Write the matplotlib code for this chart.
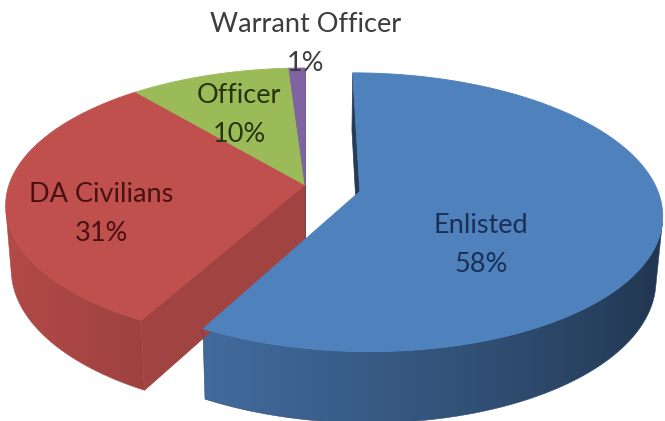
import numpy as np
import matplotlib.pyplot as plt
from matplotlib.patches import Polygon

labels = ["Enlisted", "DA Civilians", "Officer", "Warrant Officer"]
shares = [58, 31, 10, 1]
colors = ["#4F81BD", "#C0504D", "#9BBB59", "#8064A2"]
explode = [0.19, 0.0, 0.0, 0.0]
text_colors = ["#1B2F55", "#4A1111", "#26330D", "#3C3C3C"]
# centre x and first-line baseline of each label, in pixels
label_pos = [(481, 233), (101, 202), (239, 103), (306, 32)]
LINE_GAP = 39

# 3d view of the pie
ELEV = np.radians(27.0)
DIST = 6.0
HEIGHT = 0.245
SCALE = 296
CX, CY = 305, 185


def project(x, y, z):
    yv = y * np.sin(ELEV) + z * np.cos(ELEV)
    depth = y * np.cos(ELEV) - z * np.sin(ELEV)
    f = 1.0 / (1.0 + depth / DIST)
    return CX + SCALE * x * f, CY - SCALE * yv * f, depth


def shade(color, k):
    rgb = np.array(plt.matplotlib.colors.to_rgb(color))
    return np.clip(rgb * k, 0, 1)


def area(xs, ys):
    return 0.5 * np.sum(xs * np.roll(ys, -1) - np.roll(xs, -1) * ys)


fig = plt.figure(figsize=(6.65, 4.21), dpi=100)
ax = fig.add_axes([0, 0, 1, 1])
ax.set_xlim(0, 665)
ax.set_ylim(421, 0)
ax.axis("off")

walls = []   # (order key, kind, data)
tops = []
start = 90.0
for share, color, exp in zip(shares, colors, explode):
    a0 = np.radians(start)
    a1 = np.radians(start - share * 3.6)
    start -= share * 3.6
    mid = (a0 + a1) / 2
    ox, oy = exp * np.cos(mid), exp * np.sin(mid)

    t = np.linspace(a1, a0, max(int(np.degrees(a0 - a1)), 2) + 1)
    rx, ry = ox + np.cos(t), oy + np.sin(t)
    tx, ty, td = project(rx, ry, 0)
    bx, by, bd = project(rx, ry, -HEIGHT)
    cx0, cy0, cd0 = project(ox, oy, 0)
    cx1, cy1, cd1 = project(ox, oy, -HEIGHT)

    # curved outer wall: keep the strips facing the viewer
    vis = np.zeros(len(t), bool)
    for j in range(len(t) - 1):
        xs = np.array([tx[j], tx[j + 1], bx[j + 1], bx[j]])
        ys = np.array([ty[j], ty[j + 1], by[j + 1], by[j]])
        if area(xs, ys) > 0:
            vis[j] = vis[j + 1] = True
    if vis.any():
        idx = np.where(vis)[0]
        xs = np.r_[tx[idx], bx[idx][::-1]]
        ys = np.r_[ty[idx], by[idx][::-1]]
        # shading runs darker towards the right of the wall
        c = np.cos(t[idx]) + 1
        k = 0.94 - 0.2 * c - 0.035 * c ** 2
        cols = np.array([shade(color, kk) for kk in k])
        order = np.argsort(tx[idx])
        walls.append(((exp, -np.mean(td[idx])), "grad",
                      (xs, ys, tx[idx][order], cols[order])))

    # flat cut faces at both ends of the slice
    faces = [
        ([cx0, tx[0], bx[0], cx1], [cy0, ty[0], by[0], cy1], a1 - np.pi / 2),
        ([tx[-1], cx0, cx1, bx[-1]], [ty[-1], cy0, cy1, by[-1]], a0 + np.pi / 2),
    ]
    for xs, ys, normal in faces:
        xs, ys = np.array(xs), np.array(ys)
        if area(xs, ys) <= 0:
            continue
        k = 0.84 if np.cos(normal) > 0 else 0.45
        walls.append(((exp, -(td[0] + cd0) / 2), "flat",
                      (xs, ys, shade(color, k))))

    tops.append((np.r_[cx0, tx], np.r_[cy0, ty], color))

for key, kind, data in sorted(walls, key=lambda w: w[0]):
    if kind == "flat":
        xs, ys, c = data
        ax.fill(xs, ys, color=c, lw=0.5, ec=c)
    else:
        xs, ys, gx, gcols = data
        poly = Polygon(np.c_[xs, ys], closed=True, fc="none", ec="none")
        ax.add_patch(poly)
        x0, x1 = xs.min(), xs.max()
        grid = np.linspace(x0, x1, 400)
        img = np.stack([np.interp(grid, gx, gcols[:, i]) for i in range(3)], -1)
        im = ax.imshow(img[None, :, :], extent=(x0, x1, ys.max(), ys.min()),
                       aspect="auto", interpolation="bilinear")
        im.set_clip_path(poly)
        ax.fill(xs, ys, fc="none", ec=tuple(gcols.mean(0)), lw=0.4)

for xs, ys, c in tops:
    ax.fill(xs, ys, color=c, lw=0.6, ec=c)

ax.set_xlim(0, 665)
ax.set_ylim(421, 0)

for name, share, tc, (lx, ly) in zip(labels, shares, text_colors, label_pos):
    ax.text(lx, ly, name, ha="center", va="baseline", color=tc,
            family="Lato", fontsize=19.5)
    ax.text(lx, ly + LINE_GAP, f"{share}%", ha="center", va="baseline",
            color=tc, family="Lato", fontsize=19.5)

fig.savefig("out.png", dpi=100, facecolor="white")
